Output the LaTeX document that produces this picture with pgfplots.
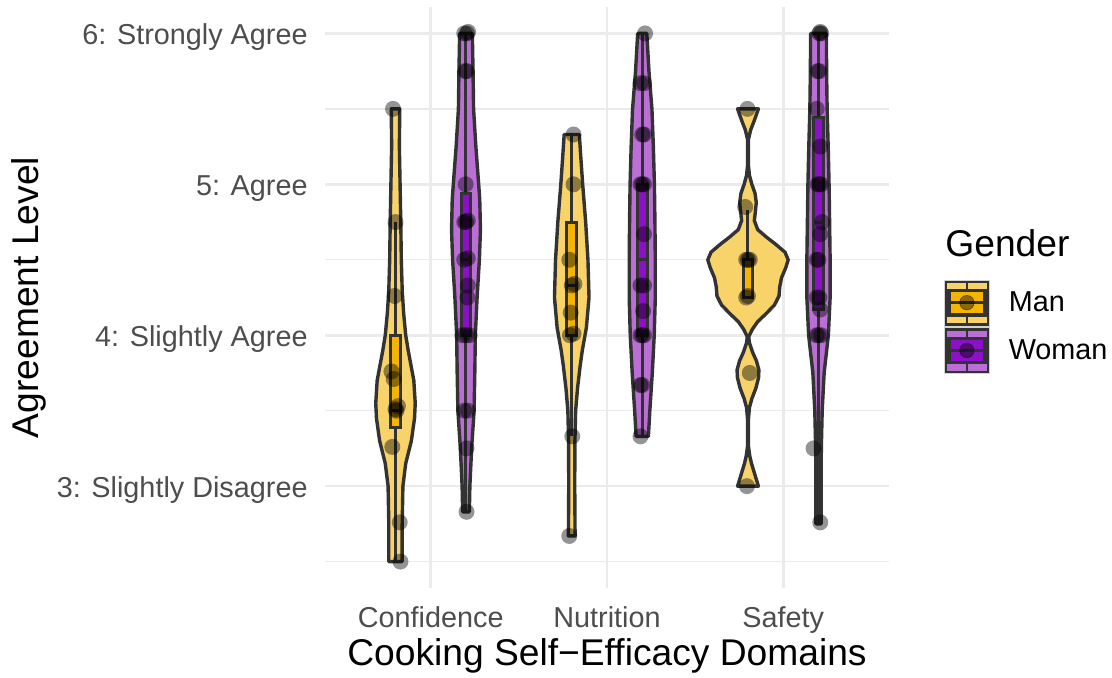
\documentclass[border=0pt]{standalone}
\usepackage{fontspec}
\setmainfont{Liberation Sans}
\usepackage{pgfplots}
\pgfplotsset{compat=1.18}
\definecolor{outl}{RGB}{51,51,51}
\definecolor{manfill}{RGB}{248,211,106}
\definecolor{manbox}{RGB}{245,180,0}
\definecolor{womfill}{RGB}{186,110,214}
\definecolor{wombox}{RGB}{140,16,200}
\definecolor{gridc}{RGB}{235,235,235}
\definecolor{tickc}{RGB}{77,77,77}
\newcommand{\legkey}[2]{%
 \begin{scope}[x=0.5pt,y=-0.5pt,shift={(0pt,11.5pt)}]
  \fill[outl] (0,0) rectangle (45,46);
  \fill[#1] (3.3,3.3) rectangle (41.7,42.3);
  \draw[outl, line width=0.9pt] (22.5,0) -- (22.5,46);
  \fill[outl] (3.3,9.3) rectangle (41.7,36);
  \fill[#2] (6.7,12.7) rectangle (38.3,32.7);
  \draw[outl, line width=1.4pt] (6.7,22.7) -- (38.3,22.7);
  \fill[black, opacity=0.42] (22.5,22.7) circle[radius=3.6pt];
  \draw[gray!35, line width=0.3pt] (0,0) rectangle (45,46);
 \end{scope}}
\begin{document}
\begin{tikzpicture}
\path[use as bounding box] (-162.5pt,-44.5pt) rectangle (393.5pt,294pt);
\begin{axis}[
 scale only axis, width=282pt, height=290.5pt,
 xmin=0.4, xmax=3.6, ymin=2.325, ymax=6.175,
 clip=false,
 xtick={1,2,3}, xticklabels={Confidence,Nutrition,Safety},
 ytick={3,4,5,6}, yticklabels={3: Slightly Disagree,4: Slightly Agree,5: Agree,6: Strongly Agree},
 minor ytick={2.5,3.5,4.5,5.5},
 xmajorgrids, ymajorgrids, yminorgrids,
 major grid style={gridc, line width=1.3pt},
 minor grid style={gridc, line width=0.65pt},
 axis line style={draw=none},
 major tick length=0pt, minor tick length=0pt,
 tick style={draw=none},
 ticklabel style={font=\fontsize{14.4}{14.4}\selectfont, text=tickc, inner sep=0pt},
 xticklabel style={anchor=base, yshift=-19.8pt},
 yticklabel style={anchor=base east, xshift=-8.5pt, yshift=-5.5pt},
 xlabel={Cooking Self−Efficacy Domains},
 ylabel={Agreement Level},
 label style={font=\fontsize{18.6}{18.6}\selectfont, inner sep=0pt},
 xlabel style={at={(axis description cs:0.5,0)}, anchor=base, yshift=-38.5pt},
 ylabel style={at={(axis description cs:-0.5071,0.5)}, anchor=base},
 legend style={at={(axis description cs:1.0975,0.5318)}, anchor=north west, draw=none, fill=none,
   inner sep=0pt, outer sep=0pt, row sep=0pt, column sep=9.5pt,
   font=\fontsize{14.4}{14.4}\selectfont, nodes={inner sep=0pt}},
 legend cell align=left,
 vstyle/.style={draw=outl, line width=1.7pt, line join=round, forget plot},
 bstyle/.style={draw=outl, line width=1.5pt, line join=miter, forget plot},
 pstyle/.style={only marks, mark=*, mark size=4pt, mark options={fill=black, fill opacity=0.42, draw opacity=0}, forget plot},
]
% ---------- violins ----------
% Confidence, Man
\addplot[vstyle, fill=manfill] coordinates {
(0.838,2.5) (0.838,2.75) (0.842,3.0) (0.858,3.15) (0.890,3.3) (0.908,3.45) (0.912,3.55) (0.904,3.7)
(0.888,3.8) (0.872,3.9) (0.858,4.0) (0.846,4.15) (0.838,4.3) (0.833,4.5) (0.830,4.75) (0.826,5.0)
(0.822,5.25) (0.824,5.5)
(0.776,5.5) (0.778,5.25) (0.774,5.0) (0.770,4.75) (0.767,4.5) (0.762,4.3) (0.754,4.15) (0.742,4.0)
(0.728,3.9) (0.712,3.8) (0.696,3.7) (0.688,3.55) (0.692,3.45) (0.710,3.3) (0.742,3.15) (0.758,3.0)
(0.762,2.75) (0.762,2.5)} --cycle;
% Confidence, Woman
\addplot[vstyle, fill=womfill] coordinates {
(1.219,2.83) (1.222,3.0) (1.232,3.25) (1.246,3.5) (1.250,3.75) (1.253,4.0) (1.263,4.25) (1.276,4.5)
(1.282,4.7) (1.278,4.9) (1.272,5.0) (1.256,5.25) (1.243,5.5) (1.240,5.75) (1.236,6.0)
(1.164,6.0) (1.160,5.75) (1.157,5.5) (1.144,5.25) (1.128,5.0) (1.122,4.9) (1.118,4.7) (1.124,4.5)
(1.137,4.25) (1.147,4.0) (1.150,3.75) (1.154,3.5) (1.168,3.25) (1.178,3.0) (1.181,2.83)} --cycle;
% Nutrition, Man
\addplot[vstyle, fill=manfill] coordinates {
(1.819,2.67) (1.817,3.0) (1.818,3.3) (1.822,3.5) (1.833,3.65) (1.848,3.8) (1.860,3.9) (1.883,4.05)
(1.898,4.25) (1.892,4.5) (1.879,4.75) (1.862,5.0) (1.852,5.17) (1.843,5.33)
(1.757,5.33) (1.748,5.17) (1.738,5.0) (1.721,4.75) (1.708,4.5) (1.702,4.25) (1.717,4.05) (1.740,3.9)
(1.752,3.8) (1.767,3.65) (1.778,3.5) (1.782,3.3) (1.783,3.0) (1.781,2.67)} --cycle;
% Nutrition, Woman
\addplot[vstyle, fill=womfill] coordinates {
(2.235,3.33) (2.243,3.5) (2.257,3.75) (2.268,4.0) (2.274,4.25) (2.274,4.5) (2.272,4.75) (2.269,5.0)
(2.263,5.25) (2.255,5.5) (2.238,5.75) (2.226,6.0)
(2.174,6.0) (2.162,5.75) (2.145,5.5) (2.137,5.25) (2.131,5.0) (2.128,4.75) (2.126,4.5) (2.126,4.25)
(2.132,4.0) (2.143,3.75) (2.157,3.5) (2.165,3.33)} --cycle;
% Safety, Man
\addplot[vstyle, fill=manfill] coordinates {
(2.859,3.0) (2.846,3.05) (2.833,3.1) (2.820,3.15) (2.810,3.2) (2.803,3.26) (2.803,3.45) (2.808,3.52)
(2.822,3.58) (2.845,3.65) (2.860,3.72) (2.862,3.77) (2.848,3.83) (2.825,3.89) (2.808,3.95) (2.804,3.99)
(2.825,4.04) (2.855,4.09) (2.900,4.14) (2.950,4.2) (2.976,4.26) (2.980,4.32) (2.990,4.38) (3.015,4.45)
(3.028,4.5) (3.010,4.55) (2.960,4.6) (2.905,4.65) (2.855,4.7) (2.836,4.76) (2.842,4.82) (2.847,4.88)
(2.840,4.94) (2.822,5.0) (2.808,5.06) (2.803,5.12) (2.803,5.3) (2.815,5.36) (2.835,5.42) (2.850,5.47)
(2.859,5.5)
(2.741,5.5) (2.750,5.47) (2.765,5.42) (2.785,5.36) (2.797,5.3) (2.797,5.12) (2.792,5.06) (2.778,5.0)
(2.760,4.94) (2.753,4.88) (2.758,4.82) (2.764,4.76) (2.745,4.7) (2.695,4.65) (2.640,4.6) (2.590,4.55)
(2.572,4.5) (2.585,4.45) (2.610,4.38) (2.620,4.32) (2.624,4.26) (2.650,4.2) (2.700,4.14) (2.745,4.09)
(2.775,4.04) (2.796,3.99) (2.792,3.95) (2.775,3.89) (2.752,3.83) (2.738,3.77) (2.740,3.72) (2.755,3.65)
(2.778,3.58) (2.792,3.52) (2.797,3.45) (2.797,3.26) (2.790,3.2) (2.780,3.15) (2.767,3.1) (2.754,3.05)
(2.741,3.0)} --cycle;
% Safety, Woman
\addplot[vstyle, fill=womfill] coordinates {
(3.215,2.75) (3.215,3.0) (3.216,3.25) (3.221,3.5) (3.232,3.75) (3.256,4.0) (3.266,4.25) (3.266,4.5)
(3.263,4.75) (3.260,5.0) (3.255,5.25) (3.249,5.5) (3.246,5.75) (3.245,6.0)
(3.155,6.0) (3.154,5.75) (3.151,5.5) (3.145,5.25) (3.140,5.0) (3.137,4.75) (3.134,4.5) (3.134,4.25)
(3.144,4.0) (3.168,3.75) (3.179,3.5) (3.184,3.25) (3.185,3.0) (3.185,2.75)} --cycle;
% ---------- boxes: whiskers, box, median ----------
% Confidence, Man: whiskers 2.5-4.75, box 3.39-4.0, median 3.5
\addplot[bstyle] coordinates {(0.8,2.5) (0.8,3.39)};
\addplot[bstyle] coordinates {(0.8,4.0) (0.8,4.75)};
\addplot[bstyle, fill=manbox] coordinates {(0.7725,3.39) (0.8275,3.39) (0.8275,4.0) (0.7725,4.0)} --cycle;
\addplot[bstyle] coordinates {(0.7725,3.5) (0.8275,3.5)};
% Confidence, Woman: whiskers 2.83-6.0, box 4.0-4.94, median 4.5
\addplot[bstyle] coordinates {(1.2,2.83) (1.2,4.0)};
\addplot[bstyle] coordinates {(1.2,4.94) (1.2,6.0)};
\addplot[bstyle, fill=wombox] coordinates {(1.1725,4.0) (1.2275,4.0) (1.2275,4.94) (1.1725,4.94)} --cycle;
\addplot[bstyle] coordinates {(1.1725,4.5) (1.2275,4.5)};
% Nutrition, Man: whiskers 3.33-5.33, box 4.0-4.75, median 4.33
\addplot[bstyle] coordinates {(1.8,3.33) (1.8,4.0)};
\addplot[bstyle] coordinates {(1.8,4.75) (1.8,5.33)};
\addplot[bstyle, fill=manbox] coordinates {(1.7725,4.0) (1.8275,4.0) (1.8275,4.75) (1.7725,4.75)} --cycle;
\addplot[bstyle] coordinates {(1.7725,4.33) (1.8275,4.33)};
% Nutrition, Woman: whiskers 3.33-6.0, box 4.0-5.0, median 4.5
\addplot[bstyle] coordinates {(2.2,3.33) (2.2,4.0)};
\addplot[bstyle] coordinates {(2.2,5.0) (2.2,6.0)};
\addplot[bstyle, fill=wombox] coordinates {(2.1725,4.0) (2.2275,4.0) (2.2275,5.0) (2.1725,5.0)} --cycle;
\addplot[bstyle] coordinates {(2.1725,4.5) (2.2275,4.5)};
% Safety, Man: whisker 4.5-4.83, box 4.25-4.5, median 4.5
\addplot[bstyle] coordinates {(2.8,4.5) (2.8,4.83)};
\addplot[bstyle, fill=manbox] coordinates {(2.7725,4.25) (2.8275,4.25) (2.8275,4.5) (2.7725,4.5)} --cycle;
\addplot[bstyle] coordinates {(2.7725,4.5) (2.8275,4.5)};
% Safety, Woman: whiskers 2.75-6.0, box 4.17-5.44, median 4.75
\addplot[bstyle] coordinates {(3.2,2.75) (3.2,4.17)};
\addplot[bstyle] coordinates {(3.2,5.44) (3.2,6.0)};
\addplot[bstyle, fill=wombox] coordinates {(3.1725,4.17) (3.2275,4.17) (3.2275,5.44) (3.1725,5.44)} --cycle;
\addplot[bstyle] coordinates {(3.1725,4.75) (3.2275,4.75)};
% ---------- points ----------
\addplot[pstyle] coordinates {
(0.786,5.50) (0.800,4.75) (0.795,4.26) (0.777,3.76) (0.790,3.71) (0.814,3.53) (0.805,3.50) (0.800,3.51)
(0.782,3.26) (0.824,2.76) (0.828,2.50)};
\addplot[pstyle] coordinates {
(1.190,6.00) (1.205,6.00) (1.212,6.01) (1.195,5.75) (1.205,5.75) (1.198,5.00) (1.190,4.75) (1.200,4.75)
(1.210,4.76) (1.190,4.50) (1.210,4.51) (1.210,4.33) (1.208,4.25) (1.180,4.00) (1.200,4.00) (1.220,4.00)
(1.190,3.50) (1.210,3.50) (1.203,3.25) (1.203,2.83)};
\addplot[pstyle] coordinates {
(1.810,5.33) (1.810,5.00) (1.786,4.50) (1.800,4.33) (1.815,4.34) (1.794,4.15) (1.790,4.00) (1.810,4.01)
(1.803,3.33) (1.786,2.67)};
\addplot[pstyle] coordinates {
(2.216,6.00) (2.190,5.67) (2.210,5.67) (2.200,5.33) (2.210,5.33) (2.190,5.00) (2.200,5.00) (2.210,5.00)
(2.210,4.67) (2.190,4.33) (2.210,4.33) (2.205,4.16) (2.190,4.00) (2.200,4.00) (2.210,4.00) (2.190,3.67)
(2.200,3.67) (2.190,3.33)};
\addplot[pstyle] coordinates {
(2.797,5.50) (2.784,4.85) (2.790,4.50) (2.800,4.50) (2.810,4.50) (2.790,4.25) (2.800,4.26) (2.810,3.75)
(2.794,3.00)};
\addplot[pstyle] coordinates {
(3.205,6.00) (3.215,6.00) (3.210,6.01) (3.195,5.75) (3.205,5.75) (3.190,5.50) (3.210,5.25) (3.195,5.00)
(3.205,5.00) (3.215,5.00) (3.220,4.75) (3.210,4.67) (3.190,4.50) (3.200,4.50) (3.190,4.25) (3.205,4.25)
(3.210,4.17) (3.200,4.00) (3.215,4.00) (3.190,4.00) (3.172,3.25) (3.210,2.76)};
% ---------- legend ----------
\addlegendimage{legend image code/.code={\legkey{manfill}{manbox}}}
\addlegendentry{Man}
\addlegendimage{legend image code/.code={\legkey{womfill}{wombox}}}
\addlegendentry{Woman}
\node[anchor=base west, inner sep=0pt, font=\fontsize{18.6}{18.6}\selectfont] at (axis description cs:1.0993,0.5702) {Gender};
\end{axis}
\end{tikzpicture}
\end{document}
